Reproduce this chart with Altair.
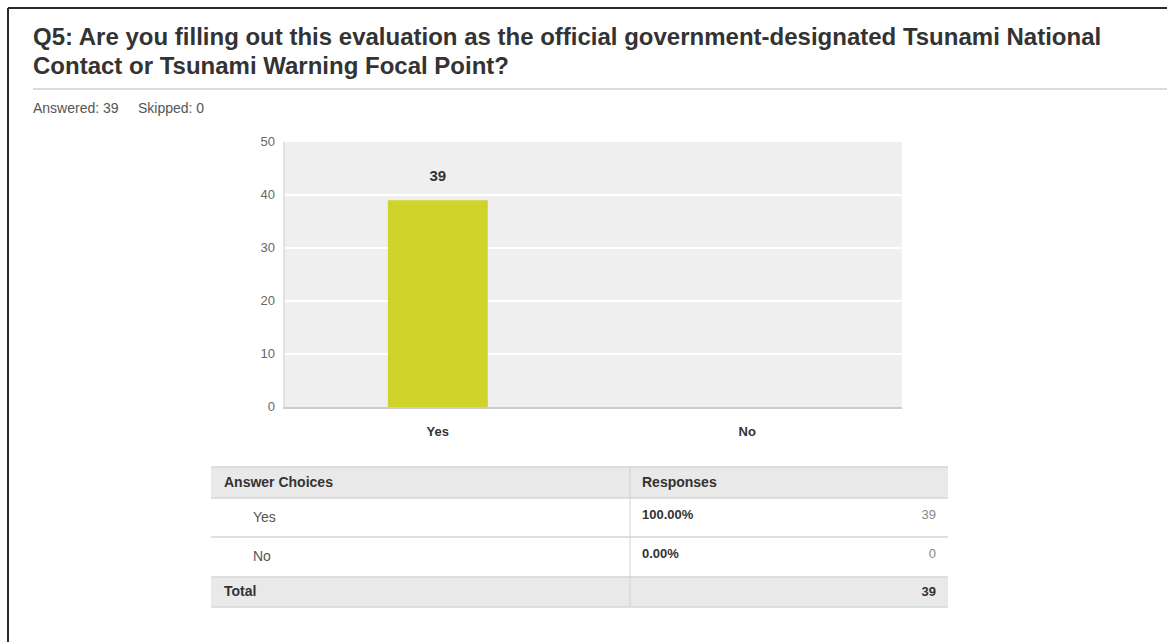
import altair as alt
import pandas as pd

# ---------------- data ----------------
title_lines = [
    "Q5: Are you filling out this evaluation as the official government-designated Tsunami National",
    "Contact or Tsunami Warning Focal Point?",
]
answered_label = "Answered: 39"
skipped_label = "Skipped: 0"
answers = ["Yes", "No"]
counts = [39, 0]
percents = ["100.00%", "0.00%"]
y_ticks = [0, 10, 20, 30, 40, 50]
header_labels = ["Answer Choices", "Responses"]
total_label = "Total"
total_value = 39

# ---------------- layout ----------------
W, H = 1167, 642
PX0, PX1 = 283, 902
PY0, PY1 = 407, 142
TX0, TXD, TX1 = 211, 630, 948
FONT = "Liberation Sans"
BAR = "#d0d32a"

xs = alt.Scale(domain=answers, range=[PX0, PX1], paddingInner=0.677, paddingOuter=0.339)
ys = alt.Scale(domain=[0, 50], range=[PY0, PY1], nice=False, zero=True)
rows = alt.Scale(domain=answers, range=[498, 577], paddingInner=0, paddingOuter=0)

one = pd.DataFrame({"k": [0]})
bars_df = pd.DataFrame({"answer": answers, "count": counts, "pct": percents})
ticks_df = pd.DataFrame({"tick": y_ticks})
grid_df = pd.DataFrame({"tick": y_ticks[1:-1]})
bg_df = pd.DataFrame({"lo": [min(y_ticks)], "hi": [max(y_ticks)]})

layers = []

# outer frame
layers.append(alt.Chart(one).mark_rule(color="#2a2a2a", strokeWidth=2).encode(
    x=alt.value(8), y=alt.value(8), y2=alt.value(H)))
layers.append(alt.Chart(one).mark_rule(color="#2a2a2a", strokeWidth=2).encode(
    x=alt.value(8), x2=alt.value(W), y=alt.value(8)))

# title
layers.append(alt.Chart(one).mark_text(
    text=title_lines[0], align="left", baseline="alphabetic", font=FONT,
    fontSize=24, fontWeight="bold", color="#333333").encode(x=alt.value(33), y=alt.value(45)))
layers.append(alt.Chart(one).mark_text(
    text=title_lines[1], align="left", baseline="alphabetic", font=FONT,
    fontSize=24, fontWeight="bold", color="#333333").encode(x=alt.value(33), y=alt.value(74)))
layers.append(alt.Chart(one).mark_rule(color="#d0d0d0", strokeWidth=1.5).encode(
    x=alt.value(33), x2=alt.value(W), y=alt.value(89)))
layers.append(alt.Chart(one).mark_text(
    text=answered_label, align="left", baseline="middle", font=FONT,
    fontSize=14, color="#555555").encode(x=alt.value(33), y=alt.value(109)))
layers.append(alt.Chart(one).mark_text(
    text=skipped_label, align="left", baseline="middle", font=FONT,
    fontSize=14, color="#555555").encode(x=alt.value(138), y=alt.value(109)))

# plot background + gridlines
layers.append(alt.Chart(bg_df).mark_rect(color="#efefef").encode(
    x=alt.value(PX0), x2=alt.value(PX1),
    y=alt.Y("lo:Q", scale=ys, axis=None), y2="hi:Q"))
layers.append(alt.Chart(grid_df).mark_rule(color="#ffffff", strokeWidth=2).encode(
    x=alt.value(PX0), x2=alt.value(PX1),
    y=alt.Y("tick:Q", scale=ys, axis=None)))
layers.append(alt.Chart(one).mark_rule(color="#cccccc", strokeWidth=2).encode(
    x=alt.value(PX0), x2=alt.value(PX1), y=alt.value(PY0 + 1)))
layers.append(alt.Chart(one).mark_rule(color="#e2e2e2", strokeWidth=2).encode(
    x=alt.value(PX0 + 1), y=alt.value(PY1), y2=alt.value(PY0)))

# y tick labels
layers.append(alt.Chart(ticks_df).mark_text(
    align="right", baseline="middle", font=FONT, fontSize=13, color="#666666").encode(
    x=alt.value(PX0 - 8),
    y=alt.Y("tick:Q", scale=ys, axis=None),
    text=alt.Text("tick:Q")))

# bars
layers.append(alt.Chart(bars_df).mark_bar(color=BAR).encode(
    x=alt.X("answer:N", scale=xs, axis=None, sort=answers),
    y=alt.Y("count:Q", scale=ys, axis=None)))
layers.append(alt.Chart(bars_df[bars_df["count"] > 0]).mark_text(
    baseline="bottom", dy=-16, font=FONT, fontSize=15, fontWeight="bold", color="#333333").encode(
    x=alt.X("answer:N", scale=xs, axis=None, sort=answers, bandPosition=0.5),
    y=alt.Y("count:Q", scale=ys, axis=None),
    text="count:Q"))
# x labels
layers.append(alt.Chart(bars_df).mark_text(
    baseline="middle", font=FONT, fontSize=13, fontWeight="bold", color="#333333").encode(
    x=alt.X("answer:N", scale=xs, axis=None, sort=answers, bandPosition=0.5),
    y=alt.value(432),
    text="answer:N"))

# ---------------- table ----------------
layers.append(alt.Chart(one).mark_rect(color="#e9e9e9").encode(
    x=alt.value(TX0), x2=alt.value(TX1), y=alt.value(467), y2=alt.value(498)))
layers.append(alt.Chart(one).mark_rect(color="#e9e9e9").encode(
    x=alt.value(TX0), x2=alt.value(TX1), y=alt.value(577), y2=alt.value(607)))
for yy in [467, 498, 537, 577, 607]:
    layers.append(alt.Chart(one).mark_rule(color="#d6d6d6", strokeWidth=1.5).encode(
        x=alt.value(TX0), x2=alt.value(TX1), y=alt.value(yy)))
layers.append(alt.Chart(one).mark_rule(color="#d0d0d0", strokeWidth=1).encode(
    x=alt.value(TXD), y=alt.value(467), y2=alt.value(607)))

layers.append(alt.Chart(one).mark_text(
    text=header_labels[0], align="left", baseline="middle", font=FONT, fontSize=14,
    fontWeight="bold", color="#333333").encode(x=alt.value(TX0 + 13), y=alt.value(483)))
layers.append(alt.Chart(one).mark_text(
    text=header_labels[1], align="left", baseline="middle", font=FONT, fontSize=14,
    fontWeight="bold", color="#333333").encode(x=alt.value(TXD + 12), y=alt.value(483)))

layers.append(alt.Chart(bars_df).mark_text(
    align="left", baseline="middle", font=FONT, fontSize=14, color="#555555").encode(
    x=alt.value(TX0 + 42),
    y=alt.Y("answer:N", scale=rows, axis=None, sort=answers, bandPosition=0.5),
    text="answer:N"))
layers.append(alt.Chart(bars_df).mark_text(
    align="left", baseline="middle", font=FONT, fontSize=13, fontWeight="bold",
    color="#333333", dy=-3).encode(
    x=alt.value(TXD + 12),
    y=alt.Y("answer:N", scale=rows, axis=None, sort=answers, bandPosition=0.5),
    text="pct:N"))
layers.append(alt.Chart(bars_df).mark_text(
    align="right", baseline="middle", font=FONT, fontSize=13, color="#888888", dy=-3).encode(
    x=alt.value(TX1 - 12),
    y=alt.Y("answer:N", scale=rows, axis=None, sort=answers, bandPosition=0.5),
    text="count:Q"))

layers.append(alt.Chart(one).mark_text(
    text=total_label, align="left", baseline="middle", font=FONT, fontSize=14,
    fontWeight="bold", color="#333333").encode(x=alt.value(TX0 + 13), y=alt.value(592)))
layers.append(alt.Chart(one).mark_text(
    text=str(total_value), align="right", baseline="middle", font=FONT, fontSize=13,
    fontWeight="bold", color="#333333").encode(x=alt.value(TX1 - 12), y=alt.value(592)))

chart = alt.layer(*layers).resolve_scale(
    x="independent", y="independent"
).properties(
    width=W, height=H, padding=0, autosize=alt.AutoSizeParams(type="none"),
    background="#ffffff",
).configure_view(stroke=None)

chart.save("out.html", embed_options={"renderer": "svg", "actions": False})
